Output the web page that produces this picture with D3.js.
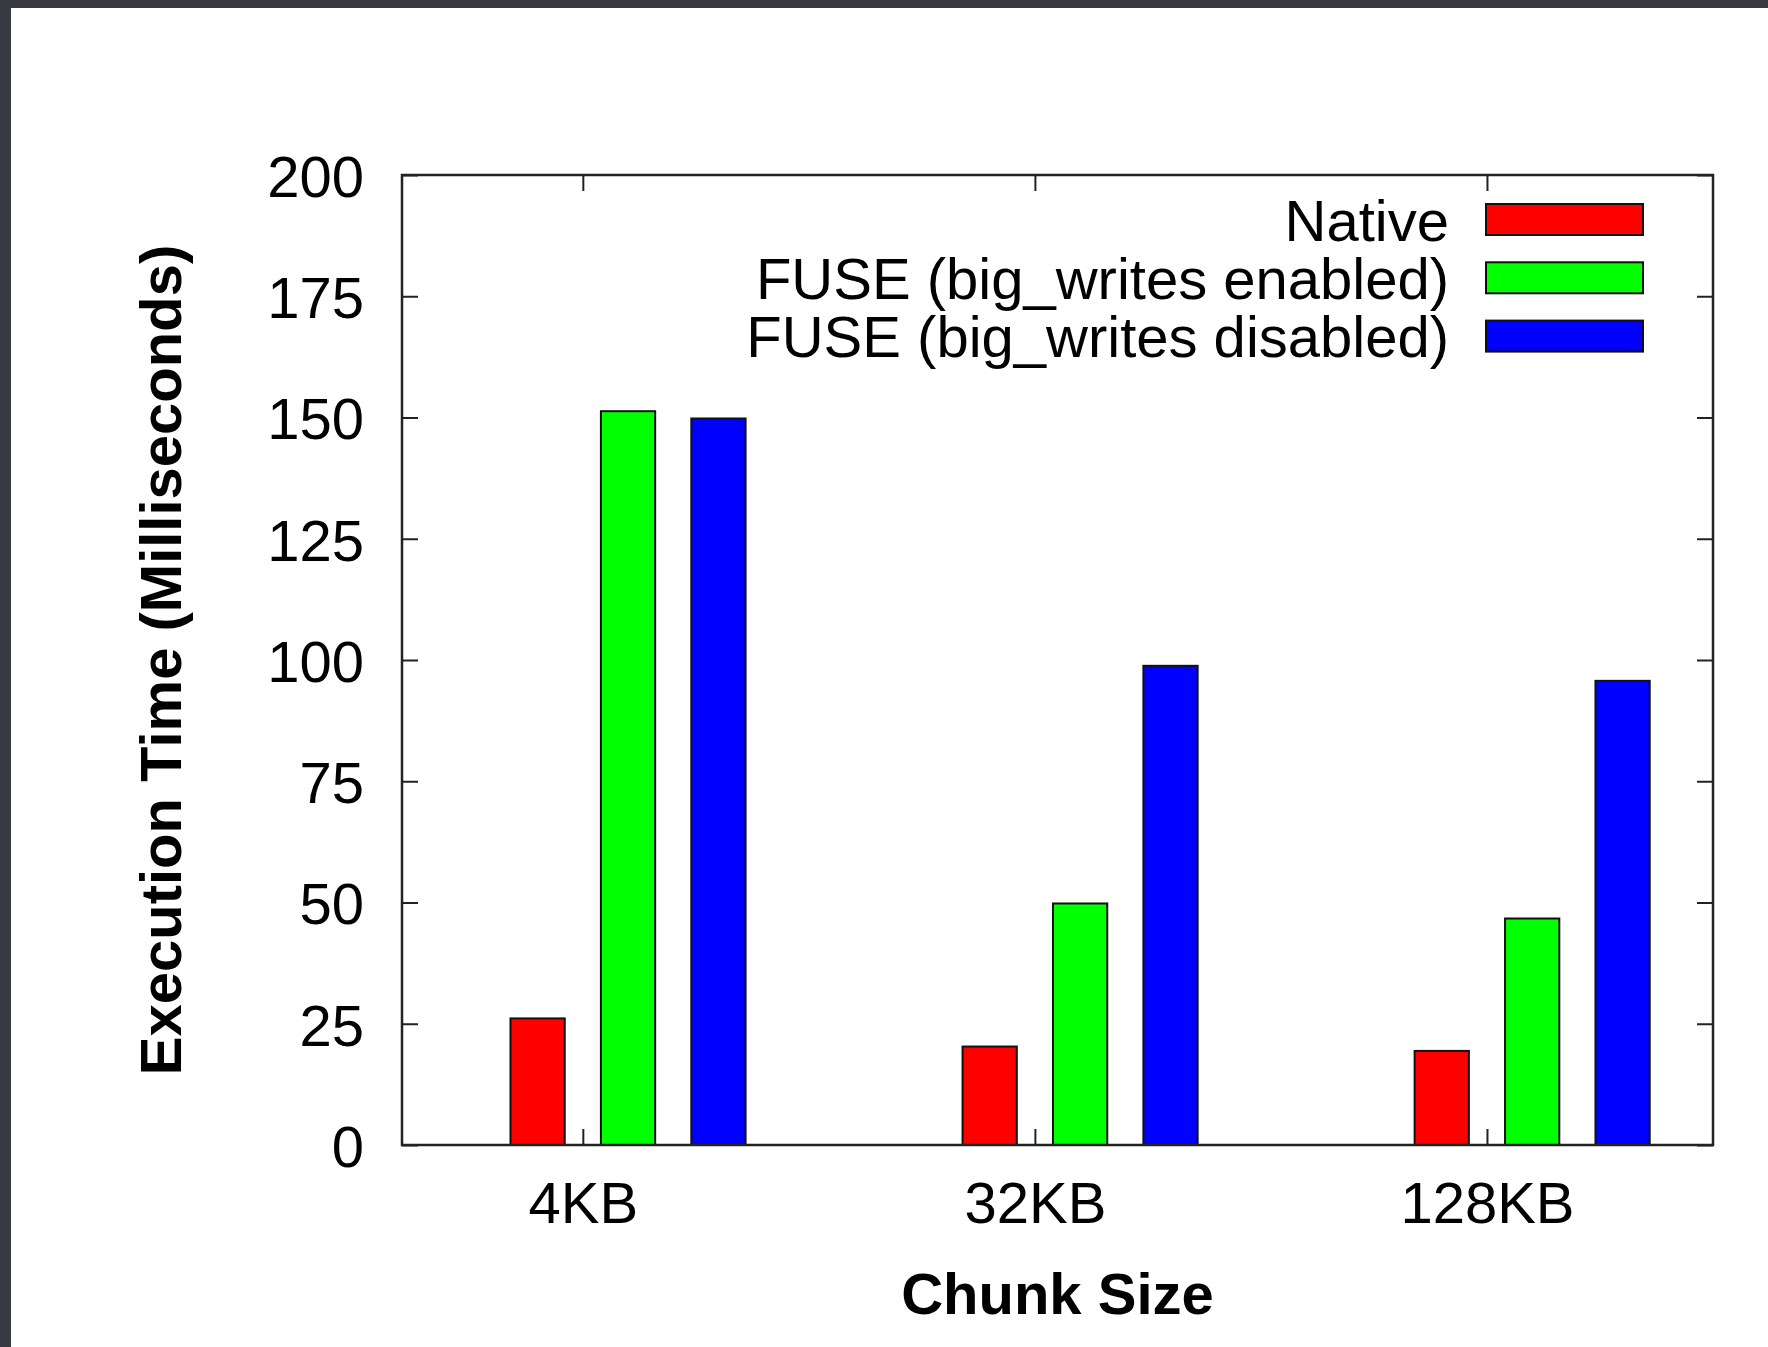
<!DOCTYPE html>
<html>
<head>
<meta charset="utf-8">
<script src="https://cdn.jsdelivr.net/npm/d3@7"></script>
<style>
  html, body { margin: 0; padding: 0; background: #fff; }
  svg { display: block; }
  text { font-family: "Liberation Sans", Arial, Helvetica, sans-serif; fill: #000; }
</style>
</head>
<body>
<svg id="chart"></svg>
<script>
// chart data
const categories = ["4KB", "32KB", "128KB"];
const seriesNames = ["Native", "FUSE (big_writes enabled)", "FUSE (big_writes disabled)"];
const nativeTimes = [26.1, 20.3, 19.4];
const fuseEnabledTimes = [151.3, 49.8, 46.7];
const fuseDisabledTimes = [149.8, 98.8, 95.7];
const yTicks = [0, 25, 50, 75, 100, 125, 150, 175, 200];
const seriesColors = ["#ff0000", "#00ff00", "#0000ff"];

const series = [nativeTimes, fuseEnabledTimes, fuseDisabledTimes];

const W = 1768, H = 1347;
const margin = { top: 175, right: 55, bottom: 202, left: 402 };
const fontSize = 58;
const tickLen = 16;

const svg = d3.select("#chart").attr("width", W).attr("height", H);

// screenshot frame (dark strips on top and left)
svg.append("rect").attr("x", 0).attr("y", 0).attr("width", W).attr("height", H).attr("fill", "#fff");
svg.append("rect").attr("x", 0).attr("y", 0).attr("width", W).attr("height", 8).attr("fill", "#393942");
svg.append("rect").attr("x", 0).attr("y", 0).attr("width", 11).attr("height", H).attr("fill", "#393942");

const x = d3.scaleLinear()
  .domain([-0.4, 2.5])
  .range([margin.left, W - margin.right]);

const y = d3.scaleLinear()
  .domain([0, 200])
  .range([H - margin.bottom, margin.top]);

const barW = x(0.12) - x(0);
const offsets = [-0.1, 0.1, 0.3];

// bars
series.forEach((vals, s) => {
  svg.append("g")
    .selectAll("rect")
    .data(vals)
    .enter().append("rect")
    .attr("x", (d, i) => x(i + offsets[s]) - barW / 2)
    .attr("y", d => y(d))
    .attr("width", barW)
    .attr("height", d => y(0) - y(d))
    .attr("fill", seriesColors[s])
    .attr("stroke", "#111")
    .attr("stroke-width", 2);
});

// axes with inward ticks on all four sides
const yAxis = svg.append("g")
  .attr("transform", "translate(" + x.range()[0] + ",0)")
  .call(d3.axisLeft(y).tickValues(yTicks).tickSize(-tickLen).tickPadding(38));
yAxis.selectAll("text").attr("dy", "0.37em").style("font-size", fontSize + "px");

svg.append("g")
  .attr("transform", "translate(" + x.range()[1] + ",0)")
  .call(d3.axisRight(y).tickValues(yTicks).tickSize(-tickLen).tickFormat(""));

const xAxis = svg.append("g")
  .attr("transform", "translate(0," + y(0) + ")")
  .call(d3.axisBottom(x).tickValues([0, 1, 2]).tickSize(-tickLen).tickPadding(37)
    .tickFormat(i => categories[i]));
xAxis.selectAll("text").style("font-size", fontSize + "px");

svg.append("g")
  .attr("transform", "translate(0," + y(200) + ")")
  .call(d3.axisTop(x).tickValues([0, 1, 2]).tickSize(-tickLen).tickFormat(""));

svg.selectAll(".domain").remove();
svg.selectAll(".tick line").attr("stroke", "#222").attr("stroke-width", 2);
svg.selectAll(".tick text").attr("fill", "#000").attr("font-family", null);

// plot border
svg.append("rect")
  .attr("x", x.range()[0])
  .attr("y", y(200))
  .attr("width", x.range()[1] - x.range()[0])
  .attr("height", y(0) - y(200))
  .attr("fill", "none")
  .attr("stroke", "#222")
  .attr("stroke-width", 2.5);

// axis titles
svg.append("text")
  .attr("x", (x.range()[0] + x.range()[1]) / 2)
  .attr("y", 1314)
  .attr("text-anchor", "middle")
  .style("font-size", fontSize + "px")
  .style("font-weight", "bold")
  .text("Chunk Size");

svg.append("text")
  .attr("transform", "translate(181," + (y(0) + y(200)) / 2 + ") rotate(-90)")
  .attr("text-anchor", "middle")
  .style("font-size", fontSize + "px")
  .style("font-weight", "bold")
  .text("Execution Time (Milliseconds)");

// legend
const legend = svg.append("g");
seriesNames.forEach((name, i) => {
  const cy = 219.5 + i * 58.3;
  legend.append("rect")
    .attr("x", 1486)
    .attr("y", cy - 15.5)
    .attr("width", 157)
    .attr("height", 31)
    .attr("fill", seriesColors[i])
    .attr("stroke", "#111")
    .attr("stroke-width", 2);
  legend.append("text")
    .attr("x", 1449)
    .attr("y", cy + 21)
    .attr("text-anchor", "end")
    .style("font-size", fontSize + "px")
    .text(name);
});
</script>
</body>
</html>
